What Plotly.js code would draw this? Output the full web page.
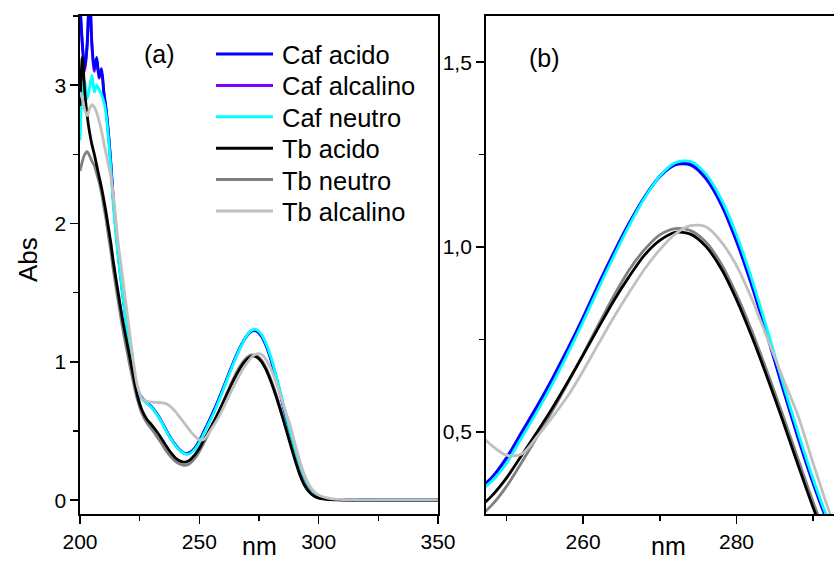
<!DOCTYPE html>
<html>
<head>
<meta charset="utf-8">
<script src="https://cdn.plot.ly/plotly-3.0.1.min.js"></script>
<style>
  html, body { margin: 0; padding: 0; background: #fff; overflow: hidden; }
  #wrap { width: 834px; height: 562px; overflow: hidden; }
  #chart { width: 850px; height: 562px; }
</style>
</head>
<body>
<div id="wrap"><div id="chart"></div></div>
<script>
// Wavelength grid (nm)
const wavelength = [200,201,202,203,204,205,206,207,208,209,210,211,212,213,214,
  216,218,220,222,224,226,228,230,232,234,236,238,240,242,244,246,248,250,252,254,256,258,
  260,262,264,266,268,270,272,274,276,278,280,282,284,286,288,290,292,294,296,298,300,
  305,310,315,320,325,330,335,340,345,350];

const seriesNames = ["Caf acido","Caf alcalino","Caf neutro","Tb acido","Tb neutro","Tb alcalino"];

const cafAcido = [3.6,3.3,3.12,3.3,3.7,3.3,3.12,3.2,3.06,3.12,2.95,2.82,2.64,2.42,2.17,
  1.79,1.48,1.22,0.98,0.8,0.74,0.705,0.675,0.63,0.575,0.51,0.45,0.4,0.36,0.338,0.345,0.375,0.43,0.5,0.57,0.645,0.725,
  0.81,0.9,0.985,1.065,1.135,1.19,1.222,1.222,1.185,1.115,1.015,0.895,0.76,0.62,0.485,0.36,0.25,0.16,0.095,0.05,0.025,
  0.006,0.003,0.002,0.002,0.001,0.001,0.001,0.001,0.001,0.001];

const cafAlcalino = [3.58,3.28,3.1,3.28,3.66,3.28,3.1,3.18,3.05,3.1,2.94,2.81,2.63,2.41,2.16,
  1.78,1.47,1.21,0.975,0.795,0.735,0.703,0.672,0.628,0.572,0.508,0.448,0.398,0.358,0.336,0.342,0.372,0.425,0.495,0.565,0.64,0.72,
  0.805,0.895,0.982,1.063,1.135,1.192,1.226,1.227,1.19,1.12,1.02,0.9,0.765,0.625,0.49,0.364,0.254,0.163,0.097,0.052,0.026,
  0.006,0.003,0.002,0.002,0.001,0.001,0.001,0.001,0.001,0.001];

const cafNeutro = [2.6,2.95,3.03,2.9,2.98,3.07,2.95,3.0,2.97,2.93,2.88,2.78,2.6,2.38,2.12,
  1.76,1.46,1.2,0.97,0.79,0.73,0.7,0.67,0.625,0.57,0.505,0.445,0.395,0.356,0.334,0.336,0.365,0.415,0.485,0.555,0.63,0.712,
  0.798,0.888,0.975,1.058,1.132,1.192,1.228,1.232,1.198,1.13,1.033,0.913,0.777,0.636,0.5,0.372,0.26,0.168,0.1,0.054,0.028,
  0.007,0.003,0.002,0.002,0.001,0.001,0.001,0.001,0.001,0.001];

const tbAcido = [2.85,3.2,2.95,2.78,2.66,2.57,2.5,2.42,2.34,2.26,2.17,2.07,1.96,1.85,1.72,
  1.5,1.29,1.11,0.93,0.76,0.65,0.585,0.545,0.5,0.45,0.395,0.345,0.305,0.282,0.275,0.29,0.325,0.375,0.437,0.5,0.565,0.635,
  0.708,0.782,0.855,0.92,0.978,1.018,1.04,1.035,1.002,0.942,0.858,0.758,0.648,0.532,0.412,0.295,0.19,0.11,0.06,0.03,0.015,
  0.004,0.002,0.001,0.001,0.001,0.001,0.001,0.001,0.001,0.001];

const tbNeutro = [2.38,2.45,2.5,2.52,2.49,2.45,2.42,2.36,2.3,2.22,2.12,2.02,1.9,1.79,1.66,
  1.44,1.23,1.05,0.88,0.73,0.625,0.56,0.515,0.465,0.415,0.36,0.315,0.28,0.26,0.252,0.265,0.3,0.352,0.418,0.487,0.557,0.632,
  0.71,0.79,0.868,0.938,0.993,1.033,1.05,1.045,1.014,0.955,0.872,0.773,0.663,0.548,0.428,0.31,0.202,0.12,0.066,0.034,0.018,
  0.005,0.002,0.001,0.001,0.001,0.001,0.001,0.001,0.001,0.001];

const tbAlcalino = [2.95,2.9,2.82,2.78,2.83,2.86,2.84,2.8,2.74,2.67,2.58,2.5,2.42,2.33,2.2,
  1.86,1.59,1.32,1.05,0.83,0.735,0.715,0.708,0.706,0.705,0.698,0.675,0.64,0.595,0.55,0.505,0.465,0.437,0.44,0.487,0.54,0.597,
  0.665,0.738,0.81,0.877,0.94,0.993,1.035,1.058,1.055,1.015,0.95,0.86,0.755,0.648,0.545,0.415,0.29,0.185,0.11,0.065,0.038,
  0.012,0.005,0.003,0.002,0.002,0.002,0.002,0.002,0.002,0.002];

const seriesValues = [cafAcido, cafAlcalino, cafNeutro, tbAcido, tbNeutro, tbAlcalino];
const seriesColors = ["#0000ff", "#8000ff", "#00ffff", "#000000", "#808080", "#c0c0c0"];
// drawing order (back to front)
const drawOrder = [1, 0, 2, 4, 3, 5];

const FONT = "Arial, 'Liberation Sans', sans-serif";
const W = 850, H = 562, MT = 16, PH = 498;
const px = x => x / W;
const py = y => 1 - (y - MT) / PH;

const traces = [];
[["x", "y"], ["x2", "y2"]].forEach(([xa, ya]) => {
  drawOrder.forEach(i => {
    traces.push({
      x: wavelength, y: seriesValues[i], type: "scatter", mode: "lines",
      name: seriesNames[i], xaxis: xa, yaxis: ya,
      line: {color: seriesColors[i], width: 2.8, shape: "spline", smoothing: 0.8},
      showlegend: false
    });
  });
});

const axisCommon = {
  showgrid: false, zeroline: false, showline: true, linecolor: "#000", linewidth: 1.6,
  ticks: "outside", ticklen: 8, tickwidth: 1.5, tickcolor: "#000",
  tickfont: {family: FONT, size: 21, color: "#000"}, mirror: true
};
const minorStyle = {ticklen: 5, tickwidth: 1.5, ticks: "outside", tickcolor: "#000"};

// Legend drawn as sample lines + labels
const legendRowY = [54, 85.4, 116.8, 148.2, 179.6, 211];
const shapes = [];
const annotations = [];
seriesNames.forEach((name, i) => {
  shapes.push({type: "line", xref: "paper", yref: "paper",
    x0: px(216), x1: px(273), y0: py(legendRowY[i]), y1: py(legendRowY[i]),
    line: {color: seriesColors[i], width: 3}});
  annotations.push({text: name, xref: "paper", yref: "paper",
    x: px(280), y: py(legendRowY[i] + 1), xanchor: "left", yanchor: "middle",
    showarrow: false, font: {family: FONT, size: 25.5, color: "#000"}});
});
annotations.push({text: "(a)", xref: "paper", yref: "paper", x: px(159), y: py(54),
  xanchor: "center", yanchor: "middle", showarrow: false,
  font: {family: FONT, size: 25, color: "#000"}});
annotations.push({text: "(b)", xref: "paper", yref: "paper", x: px(544), y: py(58),
  xanchor: "center", yanchor: "middle", showarrow: false,
  font: {family: FONT, size: 25, color: "#000"}});
// axis titles
annotations.push({text: "nm", xref: "paper", yref: "paper", x: px(259), y: py(546),
  xanchor: "center", yanchor: "middle", showarrow: false,
  font: {family: FONT, size: 25, color: "#000"}});
annotations.push({text: "nm", xref: "paper", yref: "paper", x: px(668), y: py(546),
  xanchor: "center", yanchor: "middle", showarrow: false,
  font: {family: FONT, size: 25, color: "#000"}});
annotations.push({text: "Abs", xref: "paper", yref: "paper", x: px(28), y: py(260),
  xanchor: "center", yanchor: "middle", textangle: -90, showarrow: false,
  font: {family: FONT, size: 26, color: "#000"}});

const layout = {
  width: W, height: H,
  margin: {l: 0, r: 0, t: MT, b: H - MT - PH},
  paper_bgcolor: "#fff", plot_bgcolor: "#fff",
  separators: ",.",
  font: {family: FONT, color: "#000"},
  showlegend: false,
  xaxis: Object.assign({}, axisCommon, {
    domain: [px(80), px(438)], range: [200, 350], dtick: 50, tick0: 0,
    minor: Object.assign({dtick: 25}, minorStyle)
  }),
  yaxis: Object.assign({}, axisCommon, {
    anchor: "x", range: [-0.1, 3.5], dtick: 1, tick0: 0,
    minor: Object.assign({dtick: 0.5}, minorStyle)
  }),
  xaxis2: Object.assign({}, axisCommon, {
    anchor: "y2", domain: [px(485.7), 1], range: [247.3, 294.8], dtick: 20, tick0: 0,
    minor: Object.assign({dtick: 10}, minorStyle)
  }),
  yaxis2: Object.assign({}, axisCommon, {
    anchor: "x2", range: [0.278, 1.625], dtick: 0.5, tick0: 0, tickformat: ".1f",
    minor: Object.assign({dtick: 0.25}, minorStyle)
  }),
  shapes: shapes,
  annotations: annotations
};

Plotly.newPlot("chart", traces, layout, {staticPlot: true, displayModeBar: false});
</script>
</body>
</html>
